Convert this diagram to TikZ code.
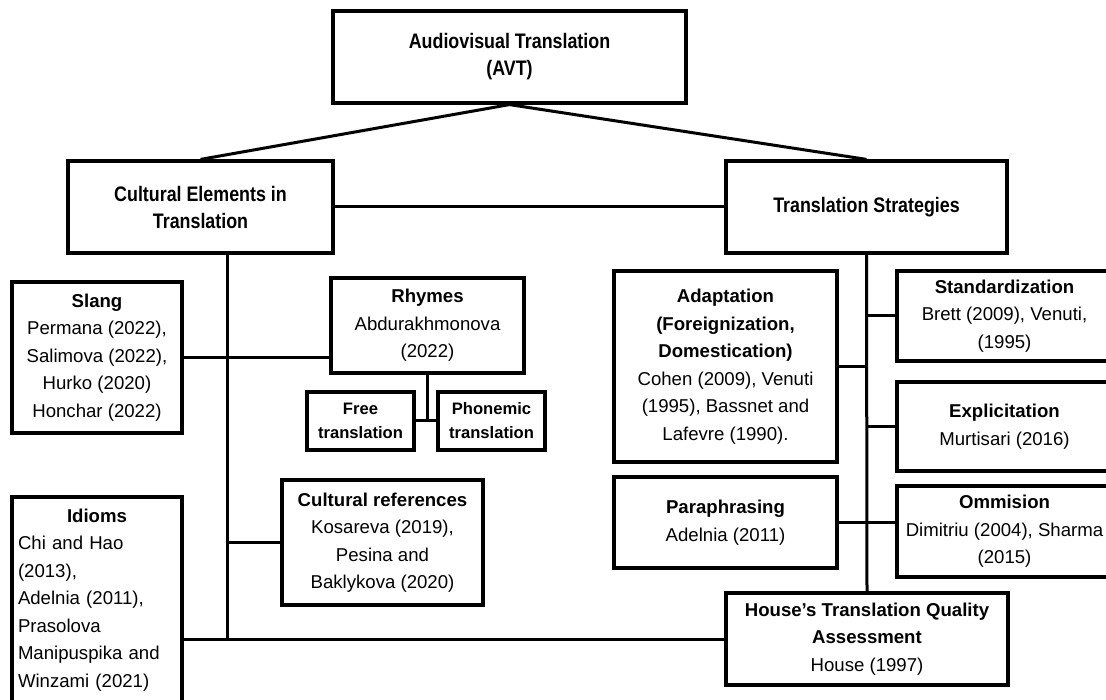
\documentclass[tikz,border=0pt]{standalone}
\usepackage{fontspec}
\setmainfont{Liberation Sans}
\newfontfamily\narrowsans[FakeStretch=0.85]{Liberation Sans}
\usepackage{tikz}

\begin{document}
\begin{tikzpicture}[x=1pt,y=-1pt,
  box/.style={draw,line width=3.2pt,inner sep=3pt,align=center,font=\fontsize{18.6}{27.5}\selectfont},
  head/.style={box,font=\narrowsans\fontsize{21}{27}\selectfont\bfseries},
  small/.style={box,font=\fontsize{16.6}{24}\selectfont\bfseries},
  link/.style={line width=3pt}]
\useasboundingbox[fill=white] (0,0) rectangle (1106,700);
\node[head,minimum width=353pt,minimum height=92pt] (avt) at (509.5,57) {Audiovisual Translation\\(AVT)};
\node[head,minimum width=265pt,minimum height=92pt] (cult) at (200.5,207) {Cultural Elements in\\Translation};
\node[head,minimum width=281pt,minimum height=92pt] (strat) at (866.5,207) {Translation Strategies};
\node[box,minimum width=170pt,minimum height=151pt] (slang) at (97,357.5) {\textbf{Slang}\\Permana (2022),\\Salimova (2022),\\Hurko (2020)\\Honchar (2022)};
\node[box,minimum width=193pt,minimum height=95pt] (rhymes) at (427.5,325.5) {\textbf{Rhymes}\\Abdurakhmonova\\(2022)};
\node[small,minimum width=107pt,minimum height=58pt] (free) at (360.5,421) {Free\\translation};
\node[small,minimum width=107pt,minimum height=58pt] (phon) at (491.5,421) {Phonemic\\translation};
\node[box,minimum width=201pt,minimum height=125pt] (culref) at (382.5,542.5) {\textbf{Cultural references}\\Kosareva (2019),\\Pesina and\\Baklykova (2020)};
\node[box,minimum width=170pt,minimum height=206pt,text width=158pt,align=left] (idioms) at (97,600) {{\centering\textbf{Idioms}\par}Chi and Hao\\(2013),\\Adelnia (2011),\\Prasolova\\Manipuspika and\\Winzami (2021)};
\node[box,minimum width=223pt,minimum height=191pt] (adapt) at (725.5,366.5) {\textbf{Adaptation}\\\textbf{(Foreignization,}\\\textbf{Domestication)}\\Cohen (2009), Venuti\\(1995), Bassnet and\\Lafevre (1990).};
\node[box,minimum width=223pt,minimum height=91pt] (para) at (725.5,522.5) {\textbf{Paraphrasing}\\Adelnia (2011)};
\node[box,minimum width=215pt,minimum height=90pt] (stand) at (1004.5,316) {\textbf{Standardization}\\Brett (2009), Venuti,\\(1995)};
\node[box,minimum width=215pt,minimum height=89pt] (expl) at (1004.5,426.5) {\textbf{Explicitation}\\Murtisari (2016)};
\node[box,minimum width=215pt,minimum height=91pt] (omm) at (1004.5,531.5) {\textbf{Ommision}\\Dimitriu (2004), Sharma\\(2015)};
\node[box,minimum width=282pt,minimum height=92pt] (house) at (867,639) {\textbf{House’s Translation Quality}\\\textbf{Assessment}\\House (1997)};
\coordinate (cbus) at (227,638);
\draw[link] (avt.south) -- (cult.north);
\draw[link] (avt.south) -- (strat.north);
\draw[link] (cult.east) -- (strat.west);
\draw[link] (cult.south -| cbus) -- (cbus);
\draw[link] (slang.east) -- (slang.east -| rhymes.west);
\draw[link] (rhymes.south) -- (rhymes.south |- free.east);
\draw[link] (free.east) -- (phon.west);
\draw[link] (culref.west -| cbus) -- (culref.west);
\draw[link] (idioms.east |- house.west) -- (house.west);
\draw[link] (strat.south) -- (house.north);
\draw[link] (adapt.east) -- (adapt.east -| strat.south);
\draw[link] (stand.west) -- (stand.west -| strat.south);
\draw[link] (expl.west) -- (expl.west -| strat.south);
\draw[link] (para.east) -- (para.east -| omm.west);
\end{tikzpicture}
\end{document}
